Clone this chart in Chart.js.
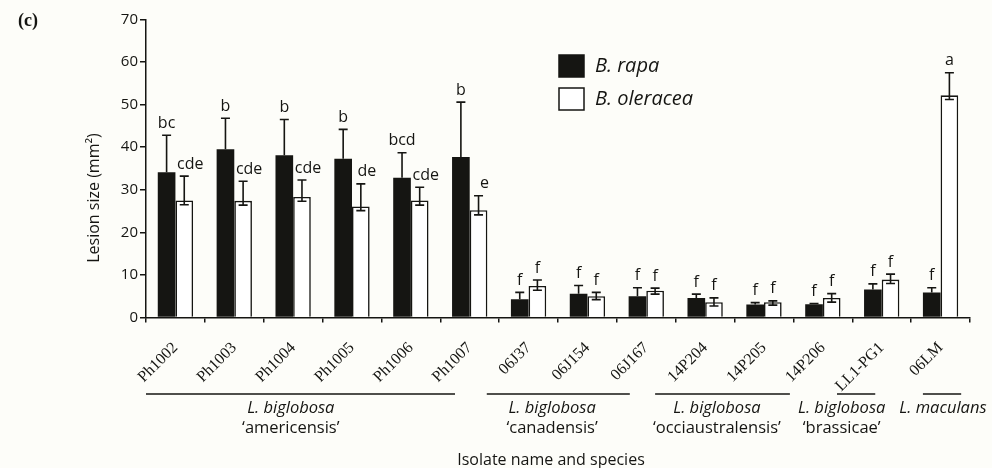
<!DOCTYPE html>
<html>
<head>
<meta charset="utf-8">
<script src="https://cdn.jsdelivr.net/npm/chart.js@4.4.0/dist/chart.umd.min.js"></script>
<style>
  html, body { margin: 0; padding: 0; background: #fdfdf9; }
  #wrap { position: relative; width: 992px; height: 468px; }
</style>
</head>
<body>
<div id="wrap"><canvas id="chart"></canvas></div>
<script>
// ============================================================
// DATA
// ============================================================
const isolates = ['Ph1002', 'Ph1003', 'Ph1004', 'Ph1005', 'Ph1006', 'Ph1007',
  '06J37', '06J154', '06J167', '14P204', '14P205', '14P206', 'LL1-PG1', '06LM'];

const rapaMean = [34.1, 39.5, 38.1, 37.3, 32.8, 37.7, 4.3, 5.6, 5.0, 4.6, 3.05, 3.1, 6.6, 5.9];
const rapaHi   = [42.8, 46.8, 46.5, 44.2, 38.7, 50.6, 5.9, 7.5, 7.0, 5.5, 3.5, 3.3, 7.9, 7.0];

const oleraceaMean = [27.5, 27.4, 28.3, 26.1, 27.5, 25.2, 7.4, 5.0, 6.3, 3.6, 3.6, 4.6, 8.9, 52.2];
const oleraceaHi   = [33.2, 32.0, 32.3, 31.4, 30.6, 28.6, 8.8, 5.9, 6.9, 4.6, 3.9, 5.6, 10.2, 57.5];
const oleraceaLo   = [26.5, 26.4, 27.3, 25.1, 26.4, 24.1, 6.4, 4.2, 5.5, 2.7, 2.9, 3.6, 8.0, 51.2];

const rapaLetters     = ['bc', 'b', 'b', 'b', 'bcd', 'b', 'f', 'f', 'f', 'f', 'f', 'f', 'f', 'f'];
const oleraceaLetters = ['cde', 'cde', 'cde', 'de', 'cde', 'e', 'f', 'f', 'f', 'f', 'f', 'f', 'f', 'a'];

const yMin = 0, yMax = 70, yStep = 10;

// species groups under the x axis (spans in category-index units)
const groupTitles = ['L. biglobosa', 'L. biglobosa', 'L. biglobosa', 'L. biglobosa', 'L. maculans'];
const groupSubs   = ['\u2018americensis\u2019', '\u2018canadensis\u2019', '\u2018occiaustralensis\u2019', '\u2018brassicae\u2019', ''];
const groupSpans  = [[-0.5, 4.75], [5.29, 7.72], [8.15, 10.44], [11.24, 11.89], [12.7, 13.35]];
const groupCenters = [1.96, 6.4, 9.2, 11.32, 13.04];

const SANS = "'Open Sans', 'DejaVu Sans', sans-serif";
const SERIF = "'Liberation Serif', 'Times New Roman', serif";
const INK = '#151512';

// ============================================================
// ANNOTATIONS: error bars, letters, groups, titles, legend
// ============================================================
const annotations = {
  id: 'annotations',
  afterDatasetsDraw(chart) {
    const { ctx, scales: { y } } = chart;
    // nudge a white-bar letter right when the black neighbour is taller
    const shift = (di, i) => (di === 1 && rapaHi[i] > oleraceaHi[i] + 3 ? 6 : 0);
    const whiskers = (di, hi, lo, letters) => {
      chart.getDatasetMeta(di).data.forEach((bar, i) => {
        const px = bar.x;
        const top = y.getPixelForValue(hi[i]);
        const bottom = lo ? y.getPixelForValue(lo[i]) : bar.y;
        ctx.beginPath();
        ctx.moveTo(px, bottom); ctx.lineTo(px, top);
        ctx.moveTo(px - 4.5, top); ctx.lineTo(px + 4.5, top);
        if (lo) { ctx.moveTo(px - 4.5, bottom); ctx.lineTo(px + 4.5, bottom); }
        ctx.stroke();
        ctx.fillText(letters[i], px + shift(di, i), top - 4);
      });
    };
    ctx.save();
    ctx.strokeStyle = INK;
    ctx.fillStyle = INK;
    ctx.lineWidth = 1.6;
    ctx.font = `16px ${SANS}`;
    ctx.textAlign = 'center';
    ctx.textBaseline = 'bottom';
    whiskers(0, rapaHi, null, rapaLetters);
    whiskers(1, oleraceaHi, oleraceaLo, oleraceaLetters);
    ctx.restore();
  },
  afterDraw(chart) {
    const { ctx, scales: { x } } = chart;
    ctx.save();
    ctx.fillStyle = INK;
    ctx.strokeStyle = INK;

    // panel tag
    ctx.font = `bold 18px ${SERIF}`;
    ctx.textAlign = 'left';
    ctx.textBaseline = 'middle';
    ctx.fillText('(c)', 18, 21);

    // y title
    ctx.save();
    ctx.translate(94, 198);
    ctx.rotate(-Math.PI / 2);
    ctx.font = `16px ${SANS}`;
    ctx.textAlign = 'center';
    ctx.textBaseline = 'middle';
    ctx.fillText('Lesion size (mm\u00B2)', 0, 0);
    ctx.restore();

    // species groups
    ctx.lineWidth = 1.5;
    ctx.textAlign = 'center';
    ctx.textBaseline = 'middle';
    groupSpans.forEach((s, i) => {
      ctx.beginPath();
      ctx.moveTo(x.getPixelForValue(s[0]), 394);
      ctx.lineTo(x.getPixelForValue(s[1]), 394);
      ctx.stroke();
      const cx = x.getPixelForValue(groupCenters[i]);
      ctx.font = `italic 16.5px ${SANS}`;
      ctx.fillText(groupTitles[i], cx, 408);
      ctx.font = `16.5px ${SANS}`;
      if (groupSubs[i]) ctx.fillText(groupSubs[i], cx, 428);
    });

    // x title
    ctx.font = `16px ${SANS}`;
    ctx.fillText('Isolate name and species', 551, 460);

    // legend
    chart.data.datasets.forEach((ds, i) => {
      const top = 55 + i * 33;
      ctx.fillStyle = ds.backgroundColor;
      ctx.fillRect(559, top, 25, 22);
      ctx.lineWidth = 1.5;
      ctx.strokeRect(559, top, 25, 22);
      ctx.fillStyle = INK;
      ctx.font = `italic 20px ${SANS}`;
      ctx.textAlign = 'left';
      ctx.fillText(ds.label, 595, top + 11);
    });
    ctx.restore();
  }
};

// ============================================================
// CHART
// ============================================================
new Chart(document.getElementById('chart'), {
  type: 'bar',
  data: {
    labels: isolates,
    datasets: [
      { label: 'B. rapa', data: rapaMean, backgroundColor: INK, borderColor: INK, borderWidth: 0 },
      { label: 'B. oleracea', data: oleraceaMean, backgroundColor: '#ffffff', borderColor: INK, borderWidth: 1.6 }
    ]
  },
  options: {
    responsive: true,
    maintainAspectRatio: false,
    animation: false,
    layout: { padding: { left: 0, right: 22, top: 19.5, bottom: 0 } },
    datasets: { bar: { categoryPercentage: 0.6, barPercentage: 1.0 } },
    plugins: { legend: { display: false }, tooltip: { enabled: false } },
    scales: {
      x: {
        grid: { offset: true, drawOnChartArea: false, color: INK, tickLength: 5, lineWidth: 1.5 },
        border: { color: INK, width: 1.5 },
        ticks: { color: INK, font: { family: SERIF, size: 16 }, minRotation: 45, maxRotation: 45, padding: 16, autoSkip: false },
        afterFit: s => { s.height = 150.5; }
      },
      y: {
        min: yMin, max: yMax,
        grid: { drawOnChartArea: false, color: INK, tickLength: 6, lineWidth: 1.5 },
        border: { color: INK, width: 1.5 },
        ticks: { stepSize: yStep, color: INK, font: { family: SANS, size: 15 }, padding: 2 },
        afterFit: s => { s.width = 146; }
      }
    }
  },
  plugins: [annotations]
});
</script>
</body>
</html>
